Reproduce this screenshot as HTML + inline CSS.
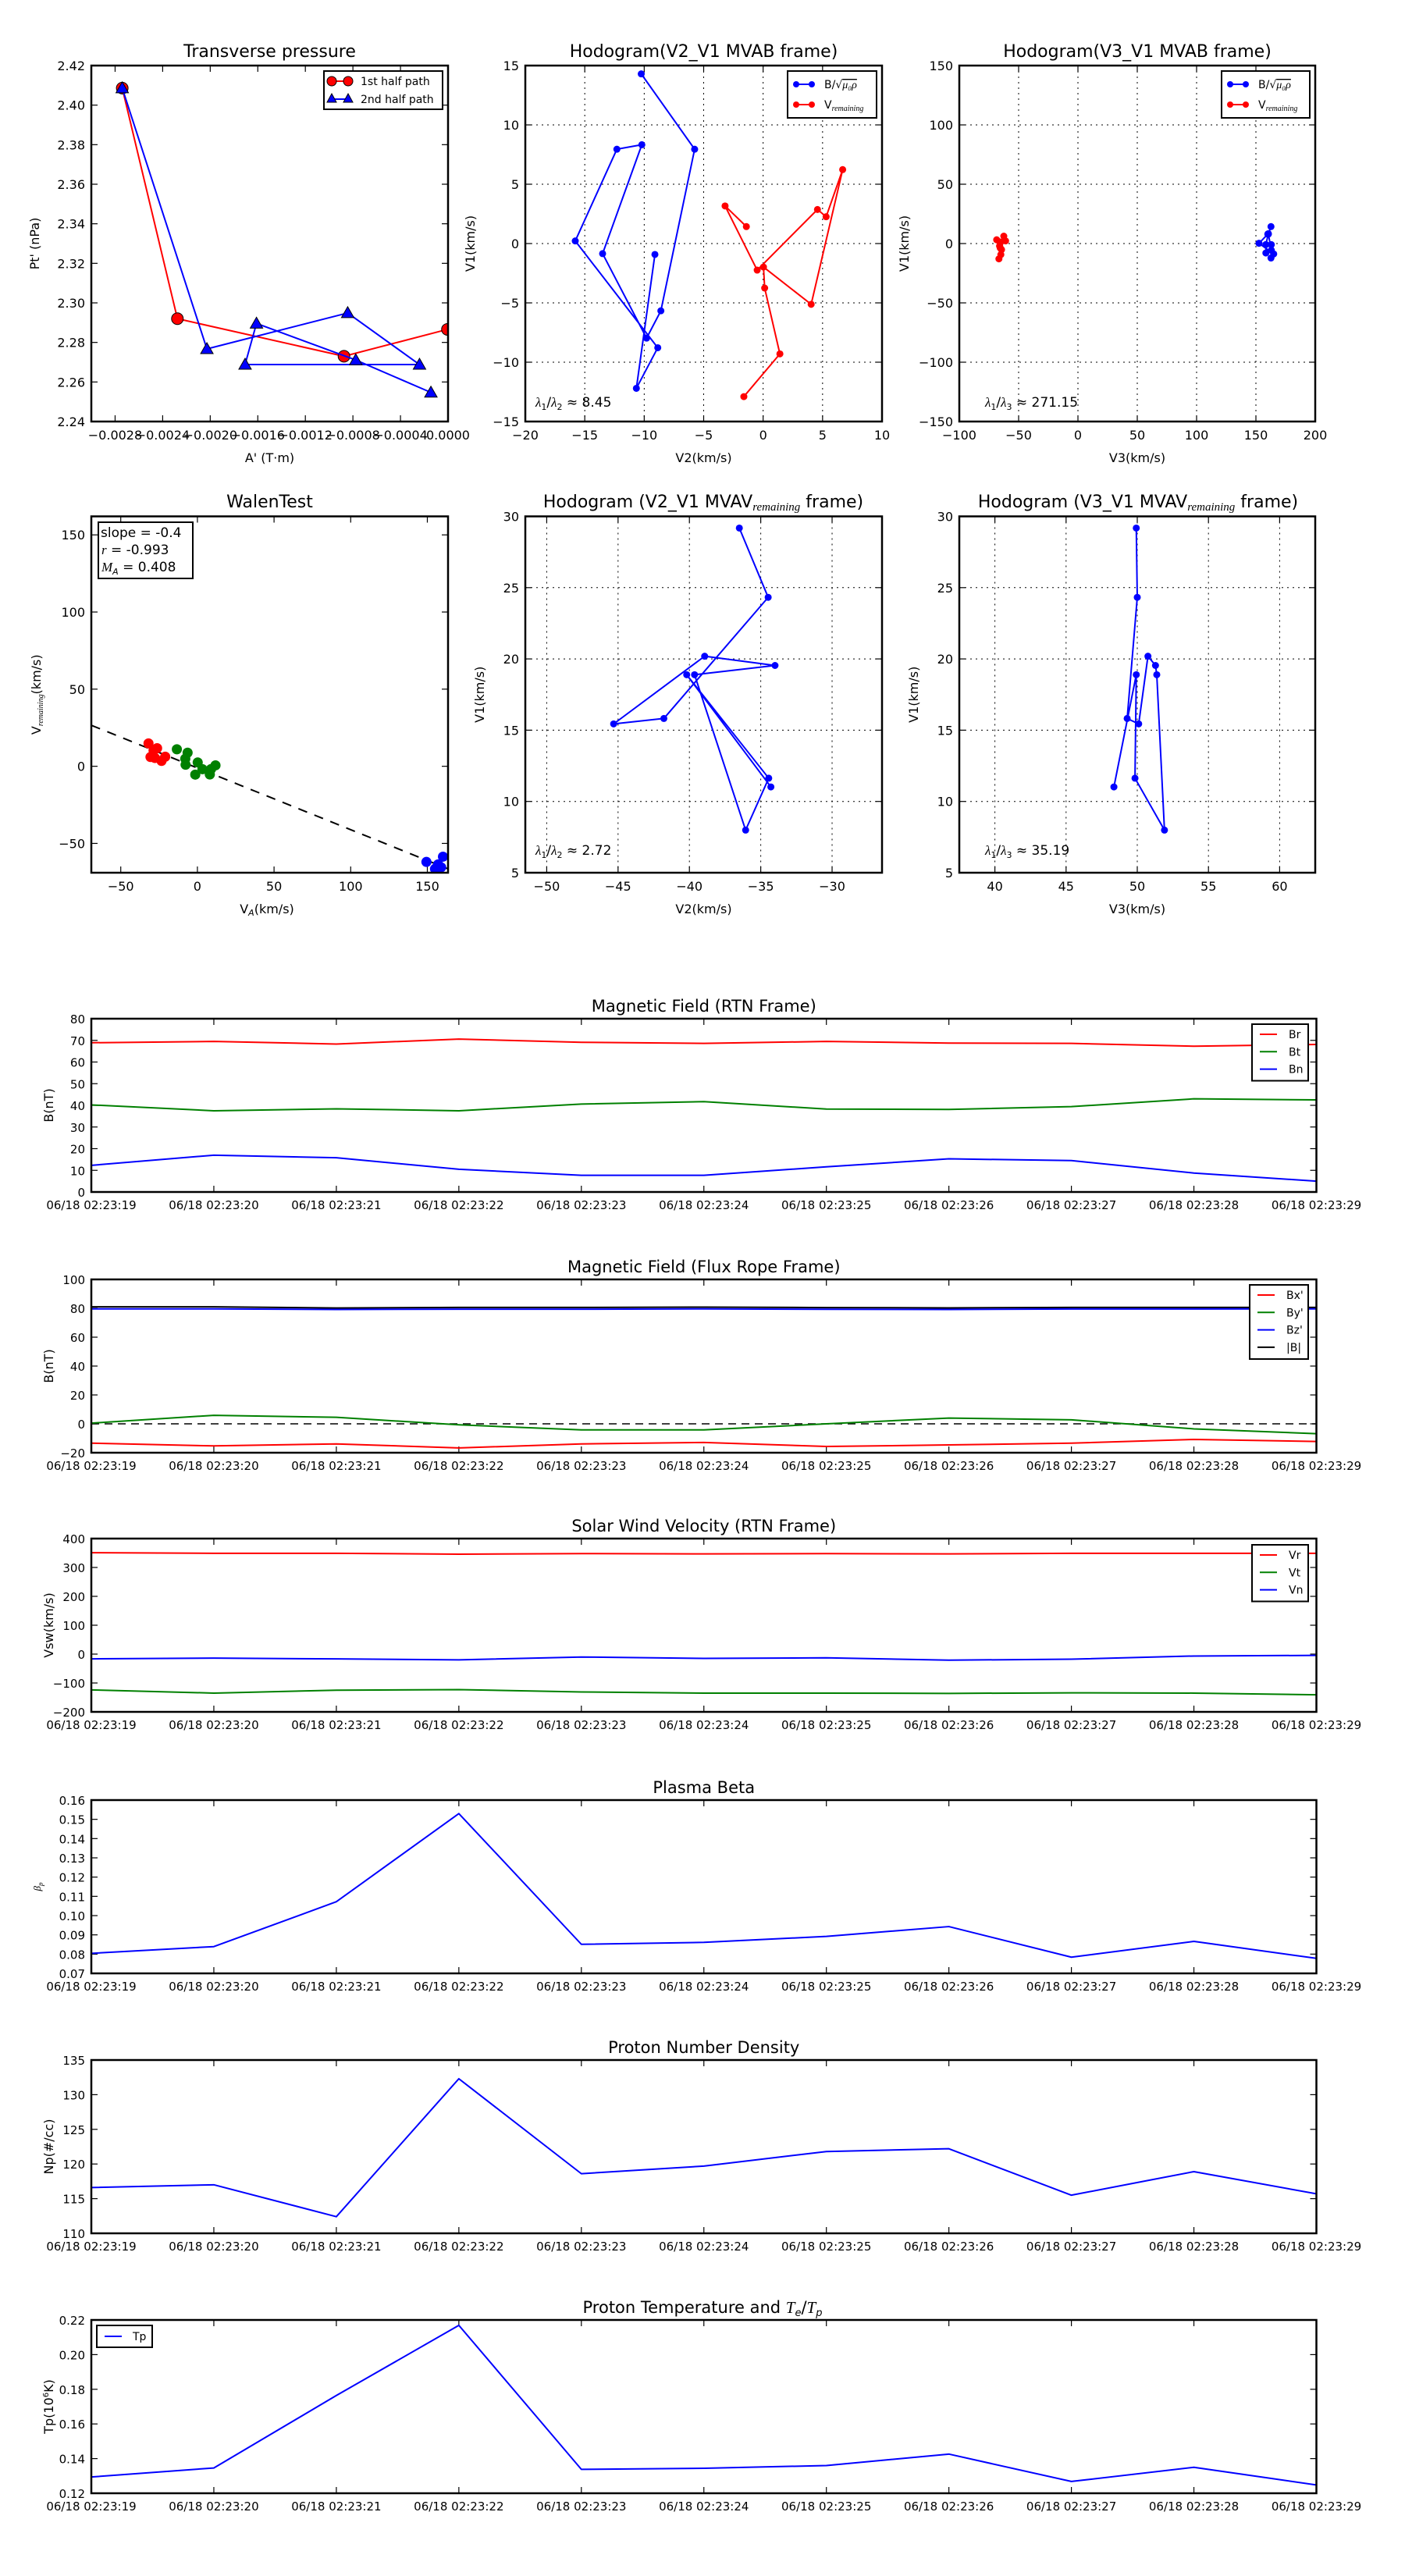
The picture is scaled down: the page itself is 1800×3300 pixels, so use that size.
<!DOCTYPE html>
<html><head><meta charset="utf-8"><title>Flux rope analysis</title>
<style>
html,body{margin:0;padding:0;background:#fff;}
svg{display:block;font-family:"DejaVu Sans","Liberation Sans",sans-serif;}
</style></head>
<body>
<svg id="fig" xmlns="http://www.w3.org/2000/svg" width="1800" height="3300" viewBox="0 0 1800 3300"></svg>
<script>
// ---------- data ----------
const tpRedA = [-0.00274, -0.002276, -0.000875, -0.000005];
const tpRedP = [2.4086, 2.292, 2.273, 2.2866];
const tpBlueA = [-0.00274, -0.002028, -0.000844, -0.00024, -0.001707, -0.001611, -0.000776, -0.000144];
const tpBlueP = [2.4086, 2.2767, 2.2949, 2.2688, 2.2688, 2.2896, 2.2711, 2.2547];
const tpXTicks = [-0.0028,-0.0024,-0.0020,-0.0016,-0.0012,-0.0008,-0.0004,0.0];
const tpXLabels = ['\u22120.0028','\u22120.0024','\u22120.0020','\u22120.0016','\u22120.0012','\u22120.0008','\u22120.0004','0.0000'];
const tpYTicks = [2.24,2.26,2.28,2.30,2.32,2.34,2.36,2.38,2.40,2.42];

const hbV2 = [-10.25,-5.76,-8.6,-9.8,-13.5,-10.2,-12.3,-15.8,-8.86,-10.66,-9.1];
const hbV1 = [14.3,7.95,-5.67,-7.97,-0.85,8.33,7.95,0.22,-8.78,-12.2,-0.92];
const hbV3 = [162.7,160.5,163,158.4,158.4,160.5,160,152.6,165,162.7,163];
const hrV2 = [-1.41,-3.2,-0.5,4.57,5.3,6.69,4.04,0.03,0.13,1.41,-1.62];
const hrV1 = [1.43,3.17,-2.24,2.87,2.26,6.23,-5.12,-1.98,-3.75,-9.3,-12.9];
const hrV3 = [-66,-68.5,-66,-62,-61,-62.5,-64.4,-66,-65.5,-65,-66.6];

const walRedX = [-31.9,-30.6,-27.7,-26.3,-23.4,-21,-28.6];
const walRedY = [14.8,6,5.4,11.7,3.5,6.2,10.3];
const walGreenX = [-13.4,-6.4,-7.9,-7.7,0.2,-1.4,3.3,8.1,11.8,8.9];
const walGreenY = [11,8.8,4.9,1,2.5,-5.4,-1.9,-5.3,0.6,-1.8];
const walBlueX = [149.4,160.2,157,155,159];
const walBlueY = [-62,-58.6,-63.6,-66.5,-65.5];
const walSlope = -0.4;
const walIntercept = -1.1;

const mvV1 = [29.18,24.32,15.82,15.44,20.19,19.54,18.89,7.99,11.63,18.89,11.02];
const mvV2 = [-36.5,-34.48,-41.79,-45.31,-38.93,-34.0,-39.64,-36.06,-34.44,-40.19,-34.29];
const mvV3 = [49.93,50,49.29,50.1,50.75,51.28,51.37,51.91,49.84,49.93,48.36];

const timeLabels = ['06/18 02:23:19','06/18 02:23:20','06/18 02:23:21','06/18 02:23:22','06/18 02:23:23','06/18 02:23:24','06/18 02:23:25','06/18 02:23:26','06/18 02:23:27','06/18 02:23:28','06/18 02:23:29'];
const tIdx = [0,1,2,3,4,5,6,7,8,9,10];
const Br = [68.9,69.5,68.3,70.6,69.1,68.6,69.5,68.75,68.6,67.3,68.1];
const Bt = [40.2,37.5,38.4,37.5,40.6,41.7,38.3,38.1,39.4,43,42.5];
const Bn = [12.3,17,15.8,10.5,7.7,7.7,11.6,15.3,14.5,8.75,5];
const Bxp = [-13.4,-15.3,-13.9,-16.7,-13.9,-12.9,-15.7,-14.6,-13.4,-10.8,-12.2];
const Byp = [0.5,5.9,4.5,-0.7,-4.2,-4.2,0,4,2.8,-3.5,-6.8];
const Bzp = [79.6,79.6,79.2,79.4,79.4,79.6,79.3,79.2,79.5,79.5,79.6];
const Bmag = [81,81,80.2,80.6,80.6,80.8,80.5,80.3,80.6,80.6,80.6];
const Vr = [351,349,349,346,348,347,348,347,349,349,349];
const Vt = [-124,-135,-125,-123,-131,-135,-135,-136,-134,-135,-141];
const Vn = [-16.5,-14,-16.5,-20,-10,-15,-13,-21,-17.5,-6.6,-4.4];
const beta = [0.0804,0.0839,0.1072,0.153,0.0851,0.0861,0.0892,0.0943,0.0784,0.0866,0.0778];
const Np = [116.6,117.0,112.4,132.3,118.6,119.7,121.8,122.2,115.5,118.9,115.7];
const Tp = [0.1294,0.1346,0.1764,0.2169,0.1338,0.1344,0.136,0.1426,0.1268,0.135,0.1248];

// ---------- helpers ----------
const NS = 'http://www.w3.org/2000/svg';
const svg = document.getElementById('fig');
let clipId = 0;
function mk(tag, attrs, parent, name) {
  const e = document.createElementNS(NS, tag);
  for (const k in attrs) e.setAttribute(k, attrs[k]);
  
  
  (parent || svg).appendChild(e);
  return e;
}
function txt(s, x, y, size, anchor, parent, name, extra) {
  const t = mk('text', Object.assign({x: x, y: y, 'font-size': size, 'text-anchor': anchor || 'middle', fill: '#000'}, extra || {}), parent, name);
  t.textContent = s;
  return t;
}
function fmtNum(v, d) {
  const s = Math.abs(v).toFixed(d);
  return (v < -1e-12 ? '\u2212' : '') + s;
}
function axes(o) {
  const g = mk('g', {}, svg, o.name);
  const sx = v => o.x + (v - o.xmin) / (o.xmax - o.xmin) * o.w;
  const sy = v => o.y + o.h - (v - o.ymin) / (o.ymax - o.ymin) * o.h;
  if (o.grid) {
    o.xticks.forEach(v => { const X = sx(v); mk('line', {x1: X, x2: X, y1: o.y, y2: o.y + o.h, stroke: '#000', 'stroke-width': 1, 'stroke-dasharray': '2,5'}, g, 'grid-line-x'); });
    o.yticks.forEach(v => { const Y = sy(v); mk('line', {x1: o.x, x2: o.x + o.w, y1: Y, y2: Y, stroke: '#000', 'stroke-width': 1, 'stroke-dasharray': '2,5'}, g, 'grid-line-y'); });
  }
  o.xticks.forEach((v, i) => {
    const X = sx(v);
    mk('line', {x1: X, x2: X, y1: o.y + o.h, y2: o.y + o.h - 8, stroke: '#000', 'stroke-width': 1.2}, g, 'x-tick');
    mk('line', {x1: X, x2: X, y1: o.y, y2: o.y + 8, stroke: '#000', 'stroke-width': 1.2}, g, 'x-tick-top');
    txt(o.xlabels[i], X, o.y + o.h + (o.xlabOff || 23), o.tickSize || 16, 'middle', g, 'x-tick-label');
  });
  o.yticks.forEach((v, i) => {
    const Y = sy(v);
    mk('line', {x1: o.x, x2: o.x + 8, y1: Y, y2: Y, stroke: '#000', 'stroke-width': 1.2}, g, 'y-tick');
    mk('line', {x1: o.x + o.w, x2: o.x + o.w - 8, y1: Y, y2: Y, stroke: '#000', 'stroke-width': 1.2}, g, 'y-tick-right');
    txt(o.ylabels[i], o.x - 8, Y + 6, o.tickSize || 16, 'end', g, 'y-tick-label');
  });
  const cid = 'clip' + (clipId++);
  const cp = mk('clipPath', {id: cid}, g, 'clip-region');
  mk('rect', {x: o.x, y: o.y, width: o.w, height: o.h}, cp, 'clip-rect');
  const data = mk('g', {'clip-path': 'url(#' + cid + ')'}, g, 'plot-area');
  if (o.title) txt(o.title, o.x + o.w / 2, o.titleY, o.titleSize || 22, 'middle', g, 'chart-title');
  if (o.xlabel) txt(o.xlabel, o.x + o.w / 2, o.y + o.h + (o.xlabelOff || 52), 16, 'middle', g, 'x-axis-title');
  if (o.ylabel) {
    const yl = txt(o.ylabel, 0, 0, 16, 'middle', g, 'y-axis-title');
    const cx = o.x - o.ylabelOff, cy = o.y + o.h / 2;
    yl.setAttribute('transform', 'translate(' + cx + ',' + cy + ') rotate(-90)');
  }
  return {g: g, data: data, sx: sx, sy: sy, o: o};
}
function frame(ax) {
  const o = ax.o;
  mk('rect', {x: o.x, y: o.y, width: o.w, height: o.h, fill: 'none', stroke: '#000', 'stroke-width': 2.5}, ax.g, 'axes-frame');
}
function series(ax, xs, ys, color, width, name, dash) {
  const pts = xs.map((x, i) => ax.sx(x).toFixed(2) + ',' + ax.sy(ys[i]).toFixed(2)).join(' ');
  const attrs = {points: pts, fill: 'none', stroke: color, 'stroke-width': width, 'stroke-linejoin': 'round'};
  if (dash) attrs['stroke-dasharray'] = dash;
  return mk('polyline', attrs, ax.data, name);
}
function dots(ax, xs, ys, color, r, name, shape) {
  xs.forEach((x, i) => {
    const X = ax.sx(x), Y = ax.sy(ys[i]);
    if (shape === 'tri') {
      mk('polygon', {points: (X) + ',' + (Y - r) + ' ' + (X - r) + ',' + (Y + r * 0.75) + ' ' + (X + r) + ',' + (Y + r * 0.75), fill: color, stroke: '#000', 'stroke-width': 1}, ax.data, name);
    } else {
      mk('circle', {cx: X, cy: Y, r: r, fill: color, stroke: shape === 'edge' ? '#000' : 'none', 'stroke-width': 1}, ax.data, name);
    }
  });
}
function range(a, b, s) { const r = []; for (let v = a; v <= b + s * 1e-6; v += s) r.push(+v.toFixed(6)); return r; }

// ---------- row 1 ----------
const R1Y = 84, R1H = 456;
const P3X = 1229, P3W = 456;
{
  const ax = axes({name: 'transverse-pressure-chart', x: 117, y: R1Y, w: 457, h: R1H, xmin: -0.003, xmax: 0, ymin: 2.24, ymax: 2.42,
    xticks: tpXTicks, xlabels: tpXLabels, yticks: tpYTicks, ylabels: tpYTicks.map(v => v.toFixed(2)),
    title: 'Transverse pressure', titleY: 73, xlabel: "A' (T\u00b7m)", ylabel: "Pt' (nPa)", ylabelOff: 67});
  series(ax, tpRedA, tpRedP, '#f00', 2, 'first-half-path-line');
  dots(ax, tpRedA, tpRedP, '#f00', 7.5, 'first-half-path-marker', 'edge');
  series(ax, tpBlueA, tpBlueP, '#00f', 2, 'second-half-path-line');
  dots(ax, tpBlueA, tpBlueP, '#00f', 8, 'second-half-path-marker', 'tri');
  frame(ax);
  const lg = mk('g', {}, svg, 'legend');
  mk('rect', {x: 415, y: 91, width: 152, height: 49, fill: '#fff', stroke: '#000', 'stroke-width': 2}, lg, 'legend-box');
  mk('line', {x1: 425, x2: 446, y1: 104, y2: 104, stroke: '#f00', 'stroke-width': 2}, lg, 'legend-line-first');
  mk('circle', {cx: 425, cy: 104, r: 6, fill: '#f00', stroke: '#000'}, lg, 'legend-marker-first');
  mk('circle', {cx: 446, cy: 104, r: 6, fill: '#f00', stroke: '#000'}, lg, 'legend-marker-first');
  txt('1st half path', 462, 109, 14, 'start', lg, 'legend-entry-first');
  mk('line', {x1: 425, x2: 446, y1: 127, y2: 127, stroke: '#00f', 'stroke-width': 2}, lg, 'legend-line-second');
  mk('polygon', {points: '425,120 419,131 431,131', fill: '#00f', stroke: '#000'}, lg, 'legend-marker-second');
  mk('polygon', {points: '446,120 440,131 452,131', fill: '#00f', stroke: '#000'}, lg, 'legend-marker-second');
  txt('2nd half path', 462, 132, 14, 'start', lg, 'legend-entry-second');
}
function hodoLegend(x, w) {
  const lg = mk('g', {}, svg, 'legend');
  mk('rect', {x: x, y: 91, width: w, height: 60, fill: '#fff', stroke: '#000', 'stroke-width': 2}, lg, 'legend-box');
  mk('line', {x1: x + 11, x2: x + 31, y1: 108, y2: 108, stroke: '#00f', 'stroke-width': 2}, lg, 'legend-line-b');
  mk('circle', {cx: x + 11, cy: 108, r: 4, fill: '#00f'}, lg, 'legend-marker-b');
  mk('circle', {cx: x + 31, cy: 108, r: 4, fill: '#00f'}, lg, 'legend-marker-b');
  const t1 = txt('B/\u221A', x + 47, 113, 14, 'start', lg, 'legend-entry-b');
  const ts = document.createElementNS(NS, 'tspan');
  ts.setAttribute('font-style', 'italic'); ts.setAttribute('font-family', 'Liberation Serif, serif');
  ts.setAttribute('text-decoration', 'overline');
  ts.textContent = '\u03BC\u2080\u03C1'; t1.appendChild(ts);
  mk('line', {x1: x + 11, x2: x + 31, y1: 134, y2: 134, stroke: '#f00', 'stroke-width': 2}, lg, 'legend-line-v');
  mk('circle', {cx: x + 11, cy: 134, r: 4, fill: '#f00'}, lg, 'legend-marker-v');
  mk('circle', {cx: x + 31, cy: 134, r: 4, fill: '#f00'}, lg, 'legend-marker-v');
  const t2 = txt('V', x + 47, 139, 14, 'start', lg, 'legend-entry-v');
  const s2 = document.createElementNS(NS, 'tspan');
  s2.setAttribute('font-size', 10); s2.setAttribute('font-style', 'italic'); s2.setAttribute('dy', 3);
  s2.setAttribute('font-family', 'Liberation Serif, serif');
  s2.textContent = 'remaining'; t2.appendChild(s2);
}
function lambdaText(x, y, a, b, val, name) {
  const t = txt('', x, y, 17, 'start', svg, name);
  const p = [['\u03BB', 'italic', 0], ['1', null, 4], ['/', null, -4], ['\u03BB', 'italic', 0], [b, null, 4], [' \u2248 ' + val, null, -4]];
  p.forEach(q => {
    const s = document.createElementNS(NS, 'tspan');
    if (q[1]) { s.setAttribute('font-style', 'italic'); s.setAttribute('font-family', 'Liberation Serif, serif'); }
    if (q[2] > 0) s.setAttribute('font-size', 11);
    if (q[2]) s.setAttribute('dy', q[2]);
    s.textContent = q[0]; t.appendChild(s);
  });
}
{
  const ax = axes({name: 'hodogram-v2-v1-mvab-chart', x: 673, y: R1Y, w: 457, h: R1H, xmin: -20, xmax: 10, ymin: -15, ymax: 15, grid: true,
    xticks: range(-20, 10, 5), xlabels: range(-20, 10, 5).map(v => fmtNum(v, 0)), yticks: range(-15, 15, 5), ylabels: range(-15, 15, 5).map(v => fmtNum(v, 0)),
    title: 'Hodogram(V2_V1 MVAB frame)', titleY: 73, xlabel: 'V2(km/s)', ylabel: 'V1(km/s)', ylabelOff: 65});
  series(ax, hbV2, hbV1, '#00f', 2, 'b-hodogram-line');
  dots(ax, hbV2, hbV1, '#00f', 4.5, 'b-hodogram-point');
  series(ax, hrV2, hrV1, '#f00', 2, 'v-hodogram-line');
  dots(ax, hrV2, hrV1, '#f00', 4.5, 'v-hodogram-point');
  frame(ax);
  hodoLegend(1009, 114);
  lambdaText(686, 521, '1', '2', '8.45', 'eigenvalue-ratio');
}
{
  const ax = axes({name: 'hodogram-v3-v1-mvab-chart', x: P3X, y: R1Y, w: P3W, h: R1H, xmin: -100, xmax: 200, ymin: -150, ymax: 150, grid: true,
    xticks: range(-100, 200, 50), xlabels: range(-100, 200, 50).map(v => fmtNum(v, 0)), yticks: range(-150, 150, 50), ylabels: range(-150, 150, 50).map(v => fmtNum(v, 0)),
    title: 'Hodogram(V3_V1 MVAB frame)', titleY: 73, xlabel: 'V3(km/s)', ylabel: 'V1(km/s)', ylabelOff: 65});
  series(ax, hbV3, hbV1, '#00f', 2, 'b-hodogram-line');
  dots(ax, hbV3, hbV1, '#00f', 4.5, 'b-hodogram-point');
  series(ax, hrV3, hrV1, '#f00', 2, 'v-hodogram-line');
  dots(ax, hrV3, hrV1, '#f00', 4.5, 'v-hodogram-point');
  frame(ax);
  hodoLegend(1565, 113);
  lambdaText(1262, 521, '1', '3', '271.15', 'eigenvalue-ratio');
}
// ---------- row 2 ----------
const R2Y = 661.5, R2H = 456.5;
{
  const ax = axes({name: 'walen-test-chart', x: 117, y: R2Y, w: 457, h: R2H, xmin: -69.2, xmax: 163.5, ymin: -69, ymax: 162,
    xticks: range(-50, 150, 50), xlabels: range(-50, 150, 50).map(v => fmtNum(v, 0)), yticks: range(-50, 150, 50), ylabels: range(-50, 150, 50).map(v => fmtNum(v, 0)),
    title: 'WalenTest', titleY: 650, xlabel: '', ylabel: '', ylabelOff: 60});
  const fx = [-69.2, 163.5];
  series(ax, fx, fx.map(v => walSlope * v + walIntercept), '#000', 2, 'walen-fit-line', '12,10');
  dots(ax, walRedX, walRedY, '#f00', 6.5, 'walen-red-point');
  dots(ax, walGreenX, walGreenY, '#008000', 6.5, 'walen-green-point');
  dots(ax, walBlueX, walBlueY, '#00f', 6.5, 'walen-blue-point');
  frame(ax);
  const xl = txt('V', 342, 1170, 16, 'middle', svg, 'x-axis-title');
  const xs = document.createElementNS(NS, 'tspan'); xs.setAttribute('font-size', 11); xs.setAttribute('font-style', 'italic'); xs.setAttribute('dy', 3); xs.textContent = 'A'; xl.appendChild(xs);
  const xs2 = document.createElementNS(NS, 'tspan'); xs2.setAttribute('dy', -3); xs2.textContent = '(km/s)'; xl.appendChild(xs2);
  const yl = txt('V', 0, 0, 16, 'middle', svg, 'y-axis-title');
  const ys = document.createElementNS(NS, 'tspan'); ys.setAttribute('font-size', 10); ys.setAttribute('font-style', 'italic'); ys.setAttribute('dy', 3); ys.setAttribute('font-family', 'Liberation Serif, serif'); ys.textContent = 'remaining'; yl.appendChild(ys);
  const ys2 = document.createElementNS(NS, 'tspan'); ys2.setAttribute('dy', -3); ys2.textContent = '(km/s)'; yl.appendChild(ys2);
  yl.setAttribute('transform', 'translate(52,' + (R2Y + R2H / 2) + ') rotate(-90)');
  const bx = mk('g', {}, svg, 'walen-stats-box');
  mk('rect', {x: 126, y: 669, width: 121, height: 72, fill: '#fff', stroke: '#000', 'stroke-width': 2}, bx, 'stats-box-frame');
  txt('slope = -0.4', 129, 688, 17, 'start', bx, 'slope-text');
  const r = txt('', 130, 710, 17, 'start', bx, 'r-text');
  const r1 = document.createElementNS(NS, 'tspan'); r1.setAttribute('font-style', 'italic'); r1.setAttribute('font-family', 'Liberation Serif, serif'); r1.textContent = 'r'; r.appendChild(r1);
  const r2 = document.createElementNS(NS, 'tspan'); r2.textContent = ' = -0.993'; r.appendChild(r2);
  const m = txt('', 130, 732, 17, 'start', bx, 'alfven-mach-text');
  const m1 = document.createElementNS(NS, 'tspan'); m1.setAttribute('font-style', 'italic'); m1.setAttribute('font-family', 'Liberation Serif, serif'); m1.textContent = 'M'; m.appendChild(m1);
  const m2 = document.createElementNS(NS, 'tspan'); m2.setAttribute('font-style', 'italic'); m2.setAttribute('font-size', 11); m2.setAttribute('dy', 4); m2.textContent = 'A'; m.appendChild(m2);
  const m3 = document.createElementNS(NS, 'tspan'); m3.setAttribute('dy', -4); m3.textContent = ' = 0.408'; m.appendChild(m3);
}
function mvTitle(prefix, cx, name) {
  const t = txt(prefix, cx, 650, 22, 'middle', svg, name);
  const s = document.createElementNS(NS, 'tspan'); s.setAttribute('font-size', 15); s.setAttribute('font-style', 'italic'); s.setAttribute('dy', 4); s.setAttribute('font-family', 'Liberation Serif, serif'); s.textContent = 'remaining'; t.appendChild(s);
  const s2 = document.createElementNS(NS, 'tspan'); s2.setAttribute('dy', -4); s2.textContent = ' frame)'; t.appendChild(s2);
}
{
  const ax = axes({name: 'hodogram-v2-v1-mvav-chart', x: 673, y: R2Y, w: 457, h: R2H, xmin: -51.5, xmax: -26.5, ymin: 5, ymax: 30, grid: true,
    xticks: range(-50, -30, 5), xlabels: range(-50, -30, 5).map(v => fmtNum(v, 0)), yticks: range(5, 30, 5), ylabels: range(5, 30, 5).map(v => fmtNum(v, 0)),
    title: '', xlabel: 'V2(km/s)', ylabel: 'V1(km/s)', ylabelOff: 53});
  series(ax, mvV2, mvV1, '#00f', 2, 'b-hodogram-line');
  dots(ax, mvV2, mvV1, '#00f', 4.5, 'b-hodogram-point');
  frame(ax);
  mvTitle('Hodogram (V2_V1 MVAV', 901, 'chart-title');
  lambdaText(686, 1095, '1', '2', '2.72', 'eigenvalue-ratio');
}
{
  const ax = axes({name: 'hodogram-v3-v1-mvav-chart', x: P3X, y: R2Y, w: P3W, h: R2H, xmin: 37.5, xmax: 62.5, ymin: 5, ymax: 30, grid: true,
    xticks: range(40, 60, 5), xlabels: range(40, 60, 5).map(v => fmtNum(v, 0)), yticks: range(5, 30, 5), ylabels: range(5, 30, 5).map(v => fmtNum(v, 0)),
    title: '', xlabel: 'V3(km/s)', ylabel: 'V1(km/s)', ylabelOff: 53});
  series(ax, mvV3, mvV1, '#00f', 2, 'b-hodogram-line');
  dots(ax, mvV3, mvV1, '#00f', 4.5, 'b-hodogram-point');
  frame(ax);
  mvTitle('Hodogram (V3_V1 MVAV', 1458, 'chart-title');
  lambdaText(1262, 1095, '1', '3', '35.19', 'eigenvalue-ratio');
}
// ---------- time series ----------
const TS_X = 117, TS_W = 1569.5, TS_H = 222;
function tsAxes(name, top, ymin, ymax, yt, dec, title, ylabel) {
  return axes({name: name, x: TS_X, y: top, w: TS_W, h: TS_H, xmin: 0, xmax: 10, ymin: ymin, ymax: ymax,
    xticks: tIdx, xlabels: timeLabels, yticks: yt, ylabels: yt.map(v => fmtNum(v, dec)), tickSize: 15, xlabOff: 22,
    title: title, titleY: top - 9, titleSize: 21, xlabel: '', ylabel: ylabel, ylabelOff: 49});
}
function tsLegend(x, y, w, rows, items, colors, name) {
  const lg = mk('g', {}, svg, name);
  mk('rect', {x: x, y: y, width: w, height: rows * 22.5 + 5, fill: '#fff', stroke: '#000', 'stroke-width': 2}, lg, 'legend-box');
  items.forEach((s, i) => {
    const yy = y + 13 + i * 22.3;
    mk('line', {x1: x + 10, x2: x + 32, y1: yy, y2: yy, stroke: colors[i], 'stroke-width': 2}, lg, 'legend-line');
    txt(s, x + 47, yy + 5, 14, 'start', lg, 'legend-entry');
  });
}
{
  const ax = tsAxes('magnetic-field-rtn-chart', 1305, 0, 80, range(0, 80, 10), 0, 'Magnetic Field (RTN Frame)', 'B(nT)');
  series(ax, tIdx, Br, '#f00', 2, 'br-line');
  series(ax, tIdx, Bt, '#008000', 2, 'bt-line');
  series(ax, tIdx, Bn, '#00f', 2, 'bn-line');
  frame(ax);
  tsLegend(1604, 1312, 72, 3, ['Br', 'Bt', 'Bn'], ['#f00', '#008000', '#00f'], 'legend');
}
{
  const ax = tsAxes('magnetic-field-flux-rope-chart', 1639, -20, 100, range(-20, 100, 20), 0, 'Magnetic Field (Flux Rope Frame)', 'B(nT)');
  series(ax, [0, 10], [0, 0], '#000', 1.5, 'zero-reference-line', '10,7');
  series(ax, tIdx, Bmag, '#000', 2, 'bmag-line');
  series(ax, tIdx, Bzp, '#00f', 2, 'bz-prime-line');
  series(ax, tIdx, Byp, '#008000', 2, 'by-prime-line');
  series(ax, tIdx, Bxp, '#f00', 2, 'bx-prime-line');
  frame(ax);
  tsLegend(1601, 1646, 75, 4, ["Bx'", "By'", "Bz'", '|B|'], ['#f00', '#008000', '#00f', '#000'], 'legend');
}
{
  const ax = tsAxes('solar-wind-velocity-chart', 1971, -200, 400, range(-200, 400, 100), 0, 'Solar Wind Velocity (RTN Frame)', 'Vsw(km/s)');
  series(ax, tIdx, Vr, '#f00', 2, 'vr-line');
  series(ax, tIdx, Vt, '#008000', 2, 'vt-line');
  series(ax, tIdx, Vn, '#00f', 2, 'vn-line');
  frame(ax);
  tsLegend(1604, 1979, 72, 3, ['Vr', 'Vt', 'Vn'], ['#f00', '#008000', '#00f'], 'legend');
}
{
  const ax = tsAxes('plasma-beta-chart', 2306, 0.07, 0.16, range(0.07, 0.16, 0.01), 2, 'Plasma Beta', '');
  series(ax, tIdx, beta, '#00f', 2, 'beta-line');
  frame(ax);
  const yl = txt('\u03B2', 0, 0, 13, 'middle', svg, 'y-axis-title', {'font-style': 'italic', 'font-family': 'Liberation Serif, serif'});
  const s = document.createElementNS(NS, 'tspan'); s.setAttribute('font-size', 9); s.setAttribute('dy', 3); s.textContent = 'p'; yl.appendChild(s);
  yl.setAttribute('transform', 'translate(52,' + (2306 + TS_H / 2) + ') rotate(-90)');
}
{
  const ax = tsAxes('proton-density-chart', 2639, 110, 135, range(110, 135, 5), 0, 'Proton Number Density', 'Np(#/cc)');
  series(ax, tIdx, Np, '#00f', 2, 'np-line');
  frame(ax);
}
{
  const ax = tsAxes('proton-temperature-chart', 2972, 0.12, 0.22, range(0.12, 0.22, 0.02), 2, '', '');
  series(ax, tIdx, Tp, '#00f', 2, 'tp-line');
  frame(ax);
  const t = txt('Proton Temperature and ', 900, 2963, 21, 'middle', svg, 'chart-title');
  const a = document.createElementNS(NS, 'tspan'); a.setAttribute('font-style', 'italic'); a.setAttribute('font-family', 'Liberation Serif, serif'); a.textContent = 'T'; t.appendChild(a);
  const b = document.createElementNS(NS, 'tspan'); b.setAttribute('font-size', 13); b.setAttribute('font-style', 'italic'); b.setAttribute('dy', 4); b.textContent = 'e'; t.appendChild(b);
  const c = document.createElementNS(NS, 'tspan'); c.setAttribute('dy', -4); c.textContent = '/'; t.appendChild(c);
  const d = document.createElementNS(NS, 'tspan'); d.setAttribute('font-style', 'italic'); d.setAttribute('font-family', 'Liberation Serif, serif'); d.textContent = 'T'; t.appendChild(d);
  const e = document.createElementNS(NS, 'tspan'); e.setAttribute('font-size', 13); e.setAttribute('font-style', 'italic'); e.setAttribute('dy', 4); e.textContent = 'p'; t.appendChild(e);
  const yl = txt('Tp(10', 0, 0, 16, 'middle', svg, 'y-axis-title');
  const s1 = document.createElementNS(NS, 'tspan'); s1.setAttribute('font-size', 10); s1.setAttribute('dy', -6); s1.textContent = '6'; yl.appendChild(s1);
  const s2 = document.createElementNS(NS, 'tspan'); s2.setAttribute('dy', 6); s2.textContent = 'K)'; yl.appendChild(s2);
  yl.setAttribute('transform', 'translate(68,' + (2972 + TS_H / 2) + ') rotate(-90)');
  const lg = mk('g', {}, svg, 'legend');
  mk('rect', {x: 124, y: 2979, width: 71, height: 28, fill: '#fff', stroke: '#000', 'stroke-width': 2}, lg, 'legend-box');
  mk('line', {x1: 134, x2: 156, y1: 2993, y2: 2993, stroke: '#00f', 'stroke-width': 2}, lg, 'legend-line');
  txt('Tp', 170, 2998, 14, 'start', lg, 'legend-entry');
}
</script>
</body></html>
